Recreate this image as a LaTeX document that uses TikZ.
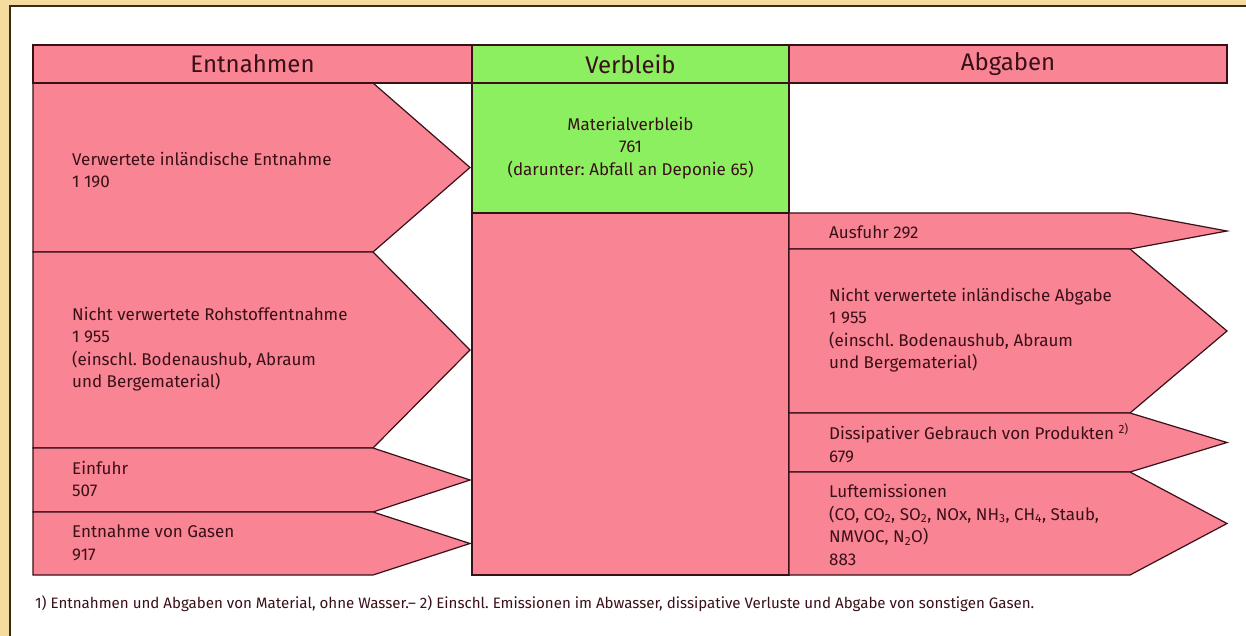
\documentclass[tikz,border=0pt]{standalone}
\usepackage{fontspec}
\setmainfont{Fira Sans}
\usetikzlibrary{positioning}
\definecolor{tanbg}{HTML}{F6DB9E}
\definecolor{framecol}{HTML}{3A2A18}
\definecolor{flowpink}{HTML}{F98494}
\definecolor{flowgreen}{HTML}{8CEF60}
\definecolor{inktext}{HTML}{3A1018}
\frenchspacing
% #1 left x, #2 top y, #3 bottom y, #4 end of body, #5 tip x
\newcommand{\flowarrow}[5]{%
  \filldraw[flow] (#1,#2) -- (#4,#2) -- (#5,{(#2+#3)/2}) -- (#4,#3) -- (#1,#3) -- cycle;}

\begin{document}
\begin{tikzpicture}[x=1pt,y=-1pt,
    head/.style={draw=inktext,line width=1.2pt,minimum height=38pt,inner sep=0pt,font=\fontsize{24}{28}\selectfont,text=inktext},
    flow/.style={draw=inktext,line width=1.2pt,fill=flowpink,line join=miter},
    flowtext/.style={anchor=west,align=left,inner sep=0pt,font=\fontsize{17}{22.5}\selectfont,text=inktext},
    note/.style={anchor=west,inner sep=0pt,font=\fontsize{15.1}{18}\selectfont,text=inktext}
  ]
  \useasboundingbox (0,0) rectangle (1246,636);
  \fill[tanbg] (0,0) rectangle (1246,636);
  \fill[white] (10,6) rectangle (1246,636);
  \draw[framecol,line width=1.5pt] (10,636) -- (10,6) -- (1246,6);

  % Entnahmen
  \flowarrow{33}{83}{252}{373}{470}
  \flowarrow{33}{252}{448}{373}{470}
  \flowarrow{33}{448}{512}{373}{470}
  \flowarrow{33}{512}{575}{373}{470}

  % Verbleib
  \filldraw[flow] (472,213) rectangle (789,575);
  \node[draw=inktext,line width=1.2pt,fill=flowgreen,minimum width=317pt,minimum height=130pt,inner sep=0pt,
    align=center,font=\fontsize{17}{22.5}\selectfont,text=inktext] (verbleib) at (630.5,148)
    {Materialverbleib\\761\\(darunter: Abfall an Deponie 65)};

  % Abgaben
  \flowarrow{789}{213}{249}{1130}{1227}
  \flowarrow{789}{249}{413}{1130}{1227}
  \flowarrow{789}{413}{472}{1130}{1227}
  \flowarrow{789}{472}{575}{1130}{1227}

  % headers
  \node[head,fill=flowpink,minimum width=439pt] (hentnahmen) at (252.5,64) {Entnahmen};
  \node[head,fill=flowgreen,minimum width=317pt] (hverbleib) at (630.5,64) {Verbleib};
  \node[head,fill=flowpink,minimum width=438pt] (habgaben) at (1008,64) {Abgaben};

  \node[flowtext] (verwertet) at (72,170) {Verwertete inländische Entnahme\\1~190};
  \node[flowtext] (rohstoff) at (72,349) {Nicht verwertete Rohstoffentnahme\\1~955\\(einschl. Bodenaushub, Abraum\\und Bergematerial)};
  \node[flowtext] (einfuhr) at (72,479) {Einfuhr\\507};
  \node[flowtext] (gase) at (72,543) {Entnahme von Gasen\\917};

  \node[flowtext] (ausfuhr) at (829,232) {Ausfuhr 292};
  \node[flowtext] (abgabe) at (829,330) {Nicht verwertete inländische Abgabe\\1~955\\(einschl. Bodenaushub, Abraum\\und Bergematerial)};
  \node[flowtext] (dissipativ) at (829,443) {Dissipativer Gebrauch von Produkten \textsuperscript{2)}\\679};
  \node[flowtext] (luft) at (829,525) {Luftemissionen\\(CO, CO\textsubscript{2}, SO\textsubscript{2}, NOx, NH\textsubscript{3}, CH\textsubscript{4}, Staub,\\NMVOC, N\textsubscript{2}O)\\883};

  \node[note] (fussnote) at (35,604) {1) Entnahmen und Abgaben von Material, ohne Wasser.-- 2) Einschl. Emissionen im Abwasser, dissipative Verluste und Abgabe von sonstigen Gasen.};
\end{tikzpicture}
\end{document}
